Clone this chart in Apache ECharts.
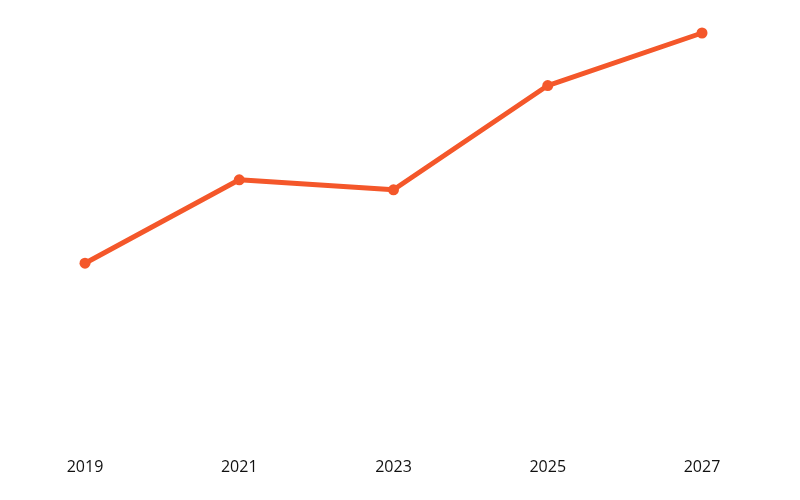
<!DOCTYPE html>
<html>
<head>
<meta charset="utf-8">
<script src="https://cdn.jsdelivr.net/npm/echarts@6/dist/echarts.min.js"></script>
<style>html,body{margin:0;padding:0;background:#fff}#c{width:800px;height:500px}</style>
</head>
<body>
<div id="c"></div>
<script>
var categories = ['2019', '2021', '2023', '2025', '2027'];
var values = [44.8, 64.8, 62.4, 87.4, 100];

var chart = echarts.init(document.getElementById('c'));
chart.setOption({
  animation: false,
  grid: { left: 85, right: 98, top: 33, bottom: 50 },
  xAxis: {
    type: 'category',
    data: categories,
    boundaryGap: false,
    axisLine: { show: false },
    axisTick: { show: false },
    splitLine: { show: false },
    axisLabel: { color: '#111', fontSize: 16, fontFamily: 'Open Sans', margin: 9 }
  },
  yAxis: {
    type: 'value',
    min: 0,
    max: 100,
    show: false,
    splitLine: { show: false }
  },
  series: [{
    type: 'line',
    data: values,
    lineStyle: { color: '#F4572A', width: 5 },
    itemStyle: { color: '#F4572A' },
    symbol: 'circle',
    symbolSize: 11
  }]
});
</script>
</body>
</html>
